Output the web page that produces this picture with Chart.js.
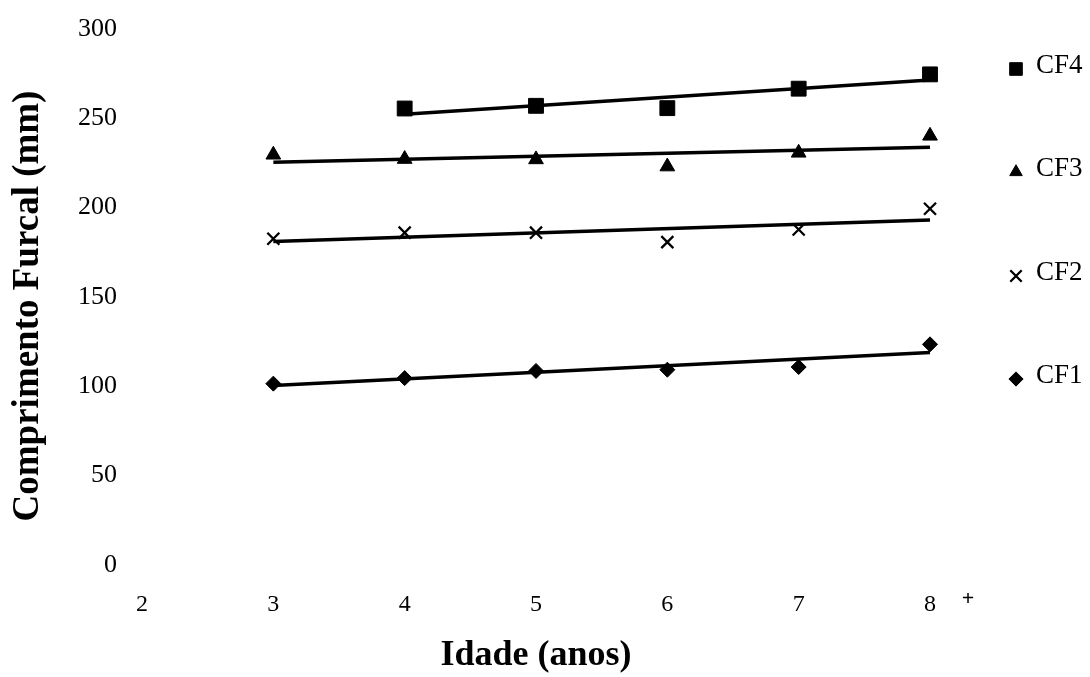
<!DOCTYPE html>
<html><head><meta charset="utf-8">
<script src="https://cdn.jsdelivr.net/npm/chart.js@4.4.0/dist/chart.umd.min.js"></script>
<style>html,body{margin:0;padding:0;background:#fff;} #wrap{position:relative;width:1090px;height:677px;}</style>
</head><body><div id="wrap"><canvas id="c" width="1090" height="677"></canvas></div>
<script>
// ---- data ----
const ages = [3, 4, 5, 6, 7, 8];
const cf1 = [101.5, 104.6, 108.6, 109.3, 110.8, 123.5];
const cf2 = [182.6, 186.0, 186.0, 180.7, 187.8, 199.4];
const cf3 = [229.6, 227.2, 227.0, 223.0, 230.7, 240.2];
const cf4 = [null, 255.5, 257.0, 255.7, 266.6, 274.6];
const seriesNames = ['CF1', 'CF2', 'CF3', 'CF4'];
const xTickValues = [2, 3, 4, 5, 6, 7, 8];
const xLastTickSuffix = '+';
const yMin = 0, yMax = 300, yStep = 50;
const xTitle = 'Idade (anos)';
const yTitle = 'Comprimento Furcal (mm)';

const serif = "'Liberation Serif', 'Times New Roman', serif";

function toPoints(ys) {
  return ages.map((x, i) => ({x: x, y: ys[i]})).filter(p => p.y !== null);
}
// linear trend line (least squares) between first and last observed age
function trend(ys) {
  const pts = toPoints(ys);
  const n = pts.length;
  const mx = pts.reduce((s, p) => s + p.x, 0) / n;
  const my = pts.reduce((s, p) => s + p.y, 0) / n;
  let sxy = 0, sxx = 0;
  pts.forEach(p => { sxy += (p.x - mx) * (p.y - my); sxx += (p.x - mx) * (p.x - mx); });
  const b = sxy / sxx;
  const x0 = pts[0].x, x1 = pts[n - 1].x;
  return [{x: x0, y: my + b * (x0 - mx)}, {x: x1, y: my + b * (x1 - mx)}];
}

const series = [cf1, cf2, cf3, cf4];
const styles = [
  {pointStyle: 'rectRot', radius: 7.5, borderWidth: 1},
  {pointStyle: 'crossRot', radius: 8.5, borderWidth: 2.3},
  {pointStyle: 'triangle', radius: 8.5, borderWidth: 1},
  {pointStyle: 'rect', radius: 10.5, borderWidth: 1}
];
const legendScale = [0.95, 0.95, 0.85, 0.85];

const datasets = [];
series.forEach((ys, i) => {
  datasets.push({
    type: 'line',
    label: seriesNames[i] + ' trend',
    data: trend(ys),
    borderColor: '#000',
    borderWidth: 3.5,
    pointRadius: 0,
    showLine: true,
    fill: false,
    clip: false,
    order: 2
  });
  datasets.push({
    type: 'scatter',
    label: seriesNames[i],
    data: toPoints(ys),
    pointStyle: styles[i].pointStyle,
    pointRadius: styles[i].radius,
    pointBorderWidth: styles[i].borderWidth,
    backgroundColor: '#000',
    borderColor: '#000',
    showLine: false,
    clip: false,
    order: 1
  });
});

// legend (right side, CF4 on top), y-axis title and the "+" of "8 +"
const extrasPlugin = {
  id: 'extras',
  afterDraw(chart) {
    const ctx = chart.ctx;
    const rows = [
      {idx: 3, y: 66},
      {idx: 2, y: 169},
      {idx: 1, y: 273},
      {idx: 0, y: 376}
    ];
    ctx.save();
    rows.forEach(r => {
      const st = styles[r.idx];
      const opts = {pointStyle: st.pointStyle, radius: st.radius * legendScale[r.idx], borderWidth: st.borderWidth, rotation: 0};
      ctx.fillStyle = '#000';
      ctx.strokeStyle = '#000';
      ctx.lineWidth = st.borderWidth;
      Chart.helpers.drawPoint(ctx, opts, 1016, r.y + 3);
      ctx.font = "27px " + serif;
      ctx.textBaseline = 'middle';
      ctx.textAlign = 'left';
      ctx.fillStyle = '#000';
      ctx.fillText(seriesNames[r.idx], 1036, r.y);
    });
    // "+" after the last age tick (8+)
    const xs = chart.scales.x;
    ctx.font = "bold 22px " + serif;
    ctx.textAlign = 'center';
    ctx.fillText(xLastTickSuffix, xs.getPixelForValue(8.29), 599);
    // y-axis title
    ctx.save();
    ctx.translate(28, 306);
    ctx.rotate(-Math.PI / 2);
    ctx.font = "bold 37px " + serif;
    ctx.textAlign = 'center';
    ctx.textBaseline = 'middle';
    ctx.fillText(yTitle, 0, 0);
    ctx.restore();
    ctx.restore();
  }
};

new Chart(document.getElementById('c'), {
  type: 'scatter',
  data: {datasets: datasets},
  options: {
    responsive: false,
    animation: false,
    layout: {padding: {left: 0, right: 160, top: 29, bottom: 0}},
    plugins: {legend: {display: false}, tooltip: {enabled: false}},
    scales: {
      x: {
        type: 'linear',
        min: 2,
        max: 8,
        afterBuildTicks: s => { s.ticks = xTickValues.map(v => ({value: v})); },
        afterFit: s => { s.height = 112; },
        grid: {display: false, drawTicks: false},
        border: {display: false},
        ticks: {
          autoSkip: false, maxRotation: 0, padding: 25, color: '#000',
          font: {family: serif, size: 24},
          callback: v => String(v)
        },
        title: {display: true, text: xTitle, color: '#000', font: {family: serif, size: 36, weight: 'bold'}, padding: {top: 0, bottom: 0}}
      },
      y: {
        min: yMin,
        max: yMax,
        afterFit: s => { s.width = 142; s.paddingTop = 0; s.paddingBottom = 0; },
        grid: {display: false, drawTicks: false},
        border: {display: false},
        ticks: {stepSize: yStep, padding: 25, color: '#000', font: {family: serif, size: 26}},
        title: {display: false, text: yTitle}
      }
    }
  },
  plugins: [extrasPlugin]
});
</script>
</body></html>
